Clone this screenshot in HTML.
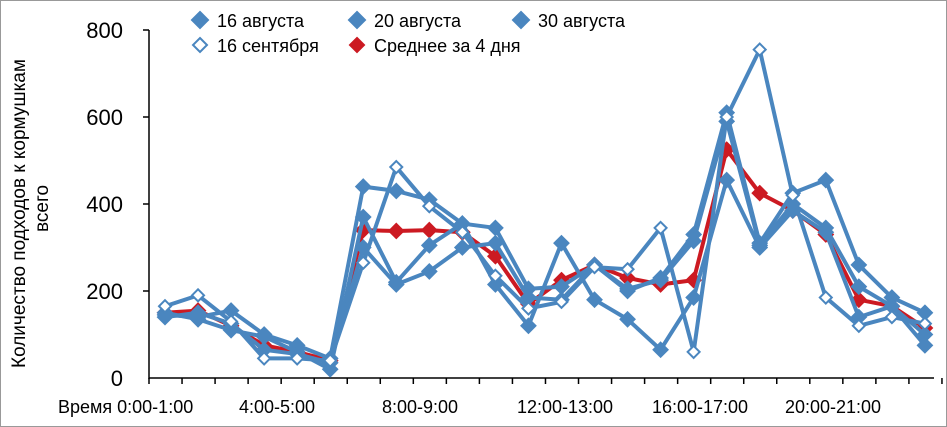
<!DOCTYPE html>
<html><head><meta charset="utf-8"><style>
html,body{margin:0;padding:0;background:#fff}
svg{display:block}
text{font-family:"Liberation Sans",sans-serif;fill:#000}
</style></head><body>
<svg id="c" width="947" height="427" viewBox="0 0 947 427" xmlns="http://www.w3.org/2000/svg">
<rect x="0.5" y="0.5" width="946" height="426" fill="#fff" stroke="#999"/>
<g font-size="22" text-anchor="end">
<text x="123" y="386">0</text>
<text x="123" y="299">200</text>
<text x="123" y="212">400</text>
<text x="123" y="125">600</text>
<text x="123" y="38">800</text>
</g>
<g font-size="19">
<text transform="translate(25,368) rotate(-90)">Количество подходов к кормушкам</text>
<text transform="translate(48,232) rotate(-90)">всего</text>
</g>
<g font-size="18">
<text x="58" y="413">Время 0:00-1:00</text>
<text x="277" y="413" text-anchor="middle">4:00-5:00</text>
<text x="420" y="413" text-anchor="middle">8:00-9:00</text>
<text x="565" y="413" text-anchor="middle">12:00-13:00</text>
<text x="700" y="413" text-anchor="middle">16:00-17:00</text>
<text x="833" y="413" text-anchor="middle">20:00-21:00</text>
</g>
<g id="axes" stroke="#000" stroke-width="1.5"></g>
<g id="series"></g>
<g id="legend" font-size="18">
<text x="217" y="27">16 августа</text>
<text x="374" y="27">20 августа</text>
<text x="538" y="27">30 августа</text>
<text x="217" y="52">16 сентября</text>
<text x="374" y="52">Среднее за 4 дня</text>
</g>
</svg>
<script>
const NS="http://www.w3.org/2000/svg";
function el(p,t,a){const e=document.createElementNS(NS,t);for(const k in a)e.setAttribute(k,a[k]);p.appendChild(e);return e;}
const ax=document.getElementById('axes');
el(ax,'line',{x1:149,y1:30,x2:149,y2:379});
el(ax,'line',{x1:149,y1:378,x2:934,y2:378});
[30,117,204,291].forEach(y=>el(ax,'line',{x1:143,y1:y,x2:149,y2:y}));
for(let i=0;i<=24;i++){const x=149+33.04*i;el(ax,'line',{x1:x,y1:378,x2:x,y2:384});}
const X=i=>165+33.04*i, Y=v=>378-v*0.435;
const S=[
[145,140,155,100,75,45,440,430,410,355,345,205,210,260,200,230,330,610,310,425,455,260,185,150],
[150,135,110,95,60,20,370,220,305,355,215,120,310,180,135,65,185,455,300,385,335,140,165,100],
[140,150,125,65,55,35,300,215,245,300,310,185,180,260,205,225,315,590,305,400,345,210,165,75],
];
const H=[165,190,130,45,45,40,265,485,395,335,235,160,175,255,250,345,60,600,755,420,185,120,140,125];
const M=[150,155,120,75,60,40,340,338,340,335,280,170,225,260,230,215,225,525,425,385,330,180,165,115];
const g=document.getElementById('series');
const blue="#4a86bf", red="#cc1a22";
function dia(p,x,y,r,fill,stroke){el(p,'polygon',{points:`${x},${y-r} ${x+r},${y} ${x},${y+r} ${x-r},${y}`,fill:fill,stroke:stroke,'stroke-width':2});}
function line(d,c){el(g,'polyline',{points:d.map((v,i)=>X(i)+','+Y(v)).join(' '),fill:'none',stroke:c,'stroke-width':4,'stroke-linejoin':'round'});}
line(M,red);M.forEach((v,i)=>dia(g,X(i),Y(v),7,red,red));
S.forEach(s=>{line(s,blue);s.forEach((v,i)=>dia(g,X(i),Y(v),7,blue,blue));});
line(H,blue);H.forEach((v,i)=>dia(g,X(i),Y(v),6,'#fff',blue));
const lg=document.getElementById('legend');
dia(lg,200,20,8,blue,blue);dia(lg,357,20,8,blue,blue);dia(lg,521,20,8,blue,blue);
dia(lg,200,45,7,'#fff',blue);dia(lg,357,45,7,red,red);
</script>
</body></html>
